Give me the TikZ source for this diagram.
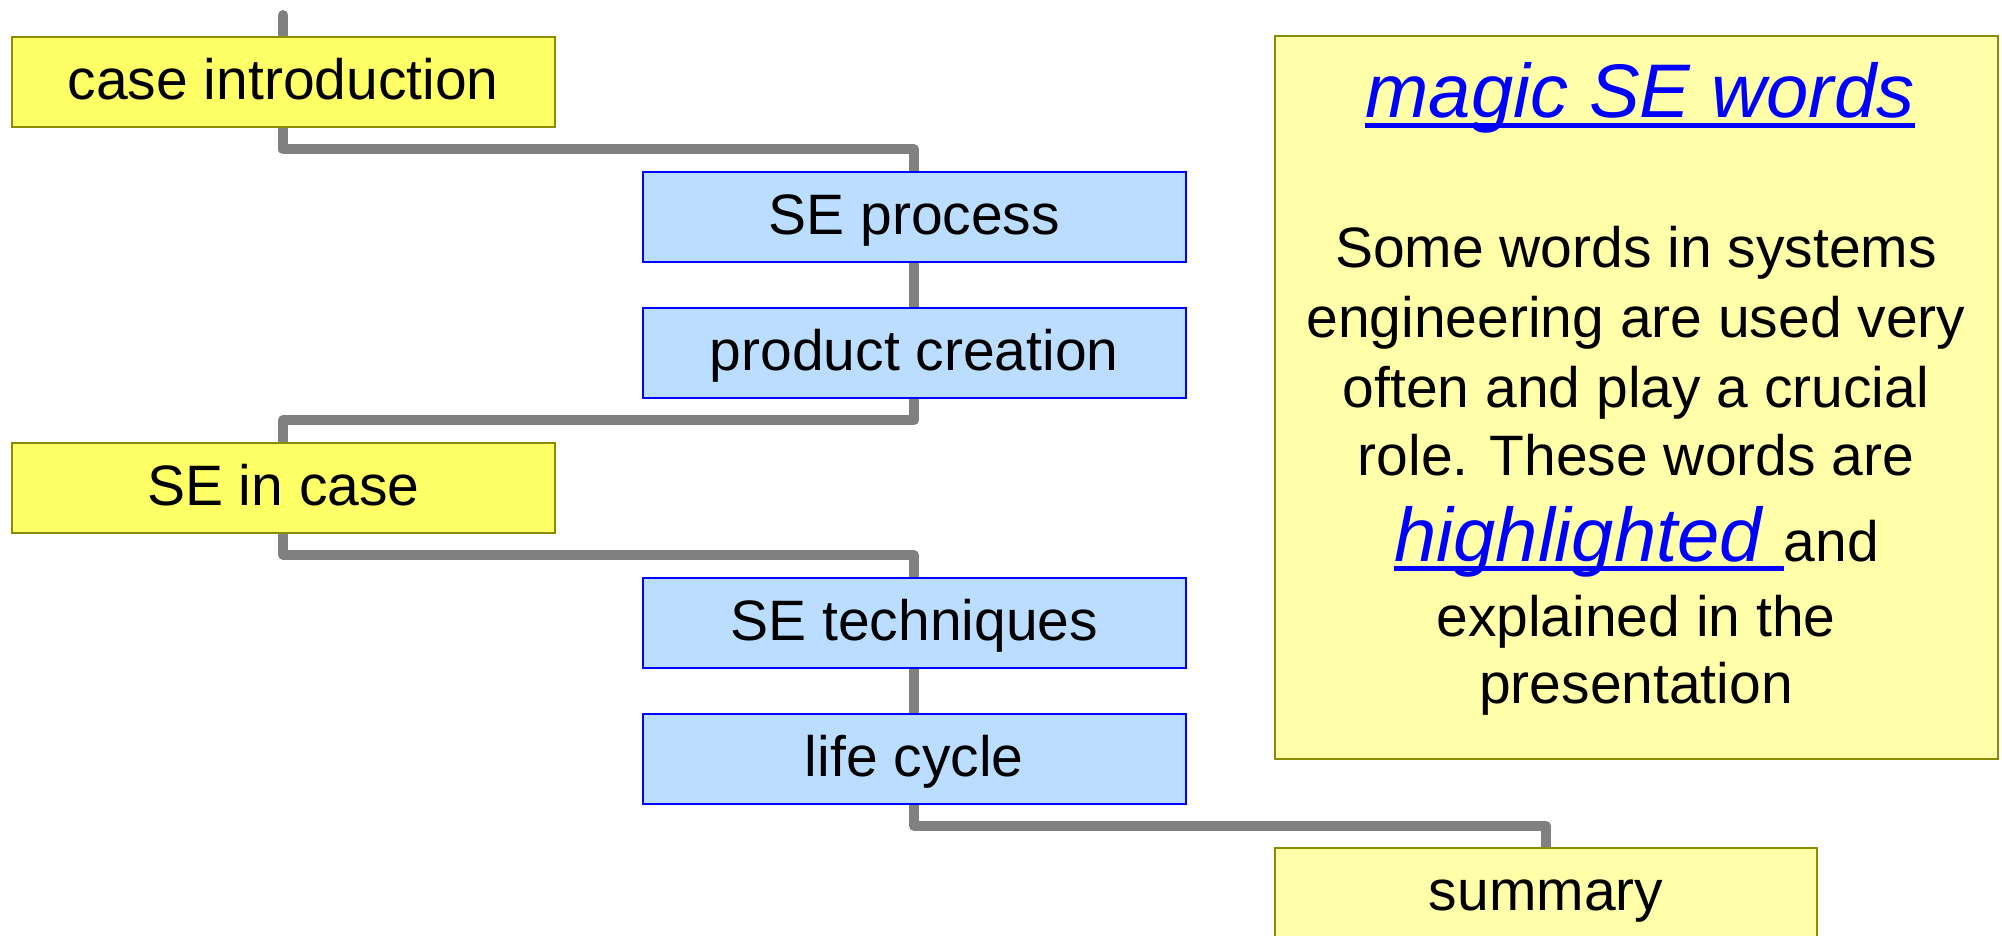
\documentclass[tikz,border=0pt]{standalone}
\usepackage{fontspec}
\setmainfont{Liberation Sans}
\usetikzlibrary{calc,backgrounds}
\definecolor{yelA}{HTML}{FFFF66}
\definecolor{yelB}{HTML}{FFFFAA}
\definecolor{olivebd}{HTML}{8C8C00}
\definecolor{blueF}{HTML}{BBDDFF}
\definecolor{blueBd}{HTML}{0000FF}
\definecolor{linkgray}{HTML}{808080}
\definecolor{magicblue}{HTML}{0000FF}
\begin{document}
\begin{tikzpicture}[x=0.5pt,y=-0.5pt,
  tocbox/.style={rectangle, line width=1pt, minimum width=271.25pt, minimum height=45pt,
    inner sep=0pt, text height=20pt, text depth=2.5pt, font=\fontsize{28.5}{34}\selectfont},
  yelbox/.style={tocbox, fill=yelA, draw=olivebd},
  sumbox/.style={tocbox, fill=yelB, draw=olivebd},
  bluebox/.style={tocbox, fill=blueF, draw=blueBd},
  magicbox/.style={rectangle, line width=1pt, fill=yelB, draw=olivebd, inner sep=0pt},
  bodytxt/.style={anchor=base, inner sep=0pt, font=\fontsize{28.5}{34}\selectfont},
  hltxt/.style={inner sep=0pt, text=magicblue, font=\fontsize{38}{44}\selectfont\itshape},
  link/.style={draw=linkgray, line width=5pt, line join=round, line cap=round},
  uline/.style={draw=magicblue, line width=2.3pt}
]
\useasboundingbox (0,0) rectangle (2002,936);

% boxes
\node[yelbox] (ci) at (283.25,82) {case introduction};
\node[bluebox] (sep) at (914.25,217) {SE process};
\node[bluebox] (pc) at (914.25,352.5) {product creation};
\node[yelbox] (sic) at (283.25,487.5) {SE in case};
\node[bluebox] (set) at (914.25,623) {SE techniques};
\node[bluebox] (lc) at (914.25,758.5) {life cycle};
\node[sumbox] (sum) at (1546,893) {summary};

% magic box
\node[magicbox, minimum width=361.25pt, minimum height=361.5pt] (magic) at (1636.25,397.5) {};
\node[hltxt, anchor=base] (title) at (1640,118) {magic SE words};
\draw[uline] ([yshift=-3.9pt]title.base west) -- ([yshift=-3.9pt]title.base east);
\node[bodytxt] (l1) at (1636,268) {Some words in systems};
\node[bodytxt] (l2) at (1636,337) {engineering are used very};
\node[bodytxt] (l3) at (1636,407) {often and play a crucial};
\node[bodytxt] (l4) at (1636,475) {role. These words are};
\node[hltxt, anchor=base west] (hl) at (1394,561) {highlighted\kern0.278em};
\node[bodytxt, anchor=base west] (and) at (hl.base east) {and};
\draw[uline] ([yshift=-3.6pt]hl.base west) -- ([yshift=-3.6pt]hl.base east);
\node[bodytxt] (l6) at (1636,636) {explained in the};
\node[bodytxt] (l7) at (1636,703) {presentation};

% connectors
\coordinate (top) at (283.25,15);
\coordinate (m1) at ($(ci.south)!.5!(sep.north)$);
\coordinate (m2) at ($(pc.south)!.5!(sic.north)$);
\coordinate (m3) at ($(sic.south)!.5!(set.north)$);
\coordinate (m4) at ($(lc.south)!.5!(sum.north)$);
\begin{scope}[on background layer]
\draw[link] (top) -- (ci.center);
\draw[link] (ci.center) -- (ci.center |- m1) -- (sep.center |- m1) -- (sep.center);
\draw[link] (sep.center) -- (pc.center);
\draw[link] (pc.center) -- (pc.center |- m2) -- (sic.center |- m2) -- (sic.center);
\draw[link] (sic.center) -- (sic.center |- m3) -- (set.center |- m3) -- (set.center);
\draw[link] (set.center) -- (lc.center);
\draw[link] (lc.center) -- (lc.center |- m4) -- (sum.center |- m4) -- (sum.center);
\end{scope}
\end{tikzpicture}
\end{document}
